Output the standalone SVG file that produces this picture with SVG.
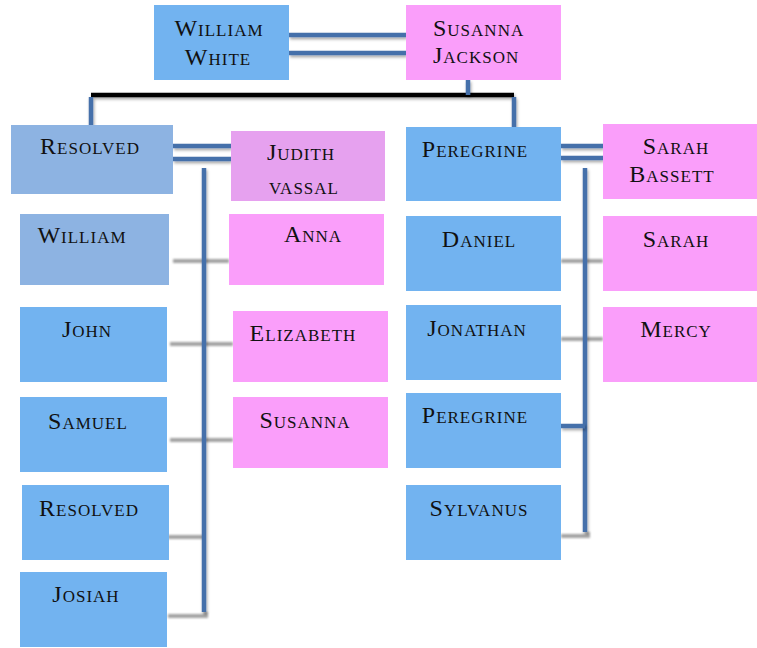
<svg xmlns="http://www.w3.org/2000/svg" width="757" height="648" viewBox="0 0 757 648">
<defs>
<filter id="sh" filterUnits="userSpaceOnUse" x="0" y="0" width="757" height="648">
<feDropShadow dx="1" dy="2" stdDeviation="1.5" flood-color="#000" flood-opacity="0.35"/>
</filter>
<filter id="blur" filterUnits="userSpaceOnUse" x="0" y="0" width="757" height="648">
<feGaussianBlur stdDeviation="1.3"/>
</filter>
<style>
text{font-family:"Liberation Serif","Times New Roman",serif;font-size:24px;font-variant:small-caps;letter-spacing:1px;fill:#111;}
.c{text-anchor:middle;}
.blue{fill:#72B3F0;}
.blue2{fill:#8DB3E2;}
.pink{fill:#FA9EFA;}
.orchid{fill:#E6A1EF;}
.ln{stroke:#4470AA;stroke-width:4.5;fill:none;filter:url(#sh);}
.blk{stroke:#000;stroke-width:4.5;fill:none;filter:url(#sh);}
.gr{stroke:#8c8c8c;stroke-width:4;fill:none;filter:url(#blur);opacity:0.8;}
</style>
</defs>
<rect width="757" height="648" fill="#fff"/>
<g id="connectors">
<path class="gr" d="M173 261H229M170 344H233M170 440H233M168 537H204M168 616H206V612"/>
<path class="gr" d="M561 261H603M561 339H603M561 536H588V532"/>
<path class="ln" d="M289 35H406M289 53H406"/>
<path class="blk" d="M91 95H514"/>
<path class="ln" d="M468 80V95M91 97V125M514 97V127"/>
<path class="ln" d="M173 146H231M173 159H231"/>
<path class="ln" d="M561 146H603M561 158H603"/>
<path class="ln" d="M204 168V612"/>
<path class="ln" d="M585 168V532"/>
<path class="ln" d="M561 426H585"/>
</g>
<g id="william-white"><rect class="blue" x="154" y="5" width="135" height="75"/><text class="c" x="219" y="36">William</text><text class="c" x="218" y="65">White</text></g>
<g id="susanna-jackson"><rect class="pink" x="406" y="5" width="155" height="75"/><text x="433" y="36">Susanna</text><text x="433" y="63">Jackson</text></g>
<g id="resolved"><rect class="blue2" x="11" y="125" width="162" height="69"/><text class="c" x="90" y="154">Resolved</text></g>
<g id="judith-vassal"><rect class="orchid" x="231" y="131" width="154" height="70"/><text class="c" x="301" y="160">Judith</text><text class="c" x="304" y="194">vassal</text></g>
<g id="peregrine"><rect class="blue" x="406" y="127" width="155" height="74"/><text class="c" x="475" y="157">Peregrine</text></g>
<g id="sarah-bassett"><rect class="pink" x="603" y="124" width="154" height="75"/><text class="c" x="676" y="154">Sarah</text><text class="c" x="672" y="182">Bassett</text></g>
<g id="william"><rect class="blue2" x="20" y="214" width="149" height="71"/><text class="c" x="82" y="243">William</text></g>
<g id="anna"><rect class="pink" x="229" y="214" width="155" height="71"/><text class="c" x="313" y="242">Anna</text></g>
<g id="john"><rect class="blue" x="20" y="307" width="147" height="75"/><text class="c" x="87" y="337">John</text></g>
<g id="elizabeth"><rect class="pink" x="233" y="311" width="155" height="71"/><text class="c" x="303" y="341">Elizabeth</text></g>
<g id="samuel"><rect class="blue" x="20" y="397" width="147" height="75"/><text class="c" x="88" y="429">Samuel</text></g>
<g id="susanna"><rect class="pink" x="233" y="397" width="155" height="71"/><text class="c" x="305" y="428">Susanna</text></g>
<g id="resolved-jr"><rect class="blue" x="22" y="485" width="147" height="75"/><text class="c" x="89" y="516">Resolved</text></g>
<g id="josiah"><rect class="blue" x="20" y="572" width="147" height="75"/><text class="c" x="86" y="602">Josiah</text></g>
<g id="daniel"><rect class="blue" x="406" y="216" width="155" height="75"/><text class="c" x="479" y="247">Daniel</text></g>
<g id="sarah"><rect class="pink" x="603" y="216" width="154" height="75"/><text class="c" x="676" y="247">Sarah</text></g>
<g id="jonathan"><rect class="blue" x="406" y="305" width="155" height="75"/><text class="c" x="477" y="336">Jonathan</text></g>
<g id="mercy"><rect class="pink" x="603" y="307" width="154" height="75"/><text class="c" x="676" y="337">Mercy</text></g>
<g id="peregrine-jr"><rect class="blue" x="406" y="393" width="155" height="75"/><text class="c" x="475" y="423">Peregrine</text></g>
<g id="sylvanus"><rect class="blue" x="406" y="485" width="155" height="75"/><text class="c" x="479" y="516">Sylvanus</text></g>
</svg>
